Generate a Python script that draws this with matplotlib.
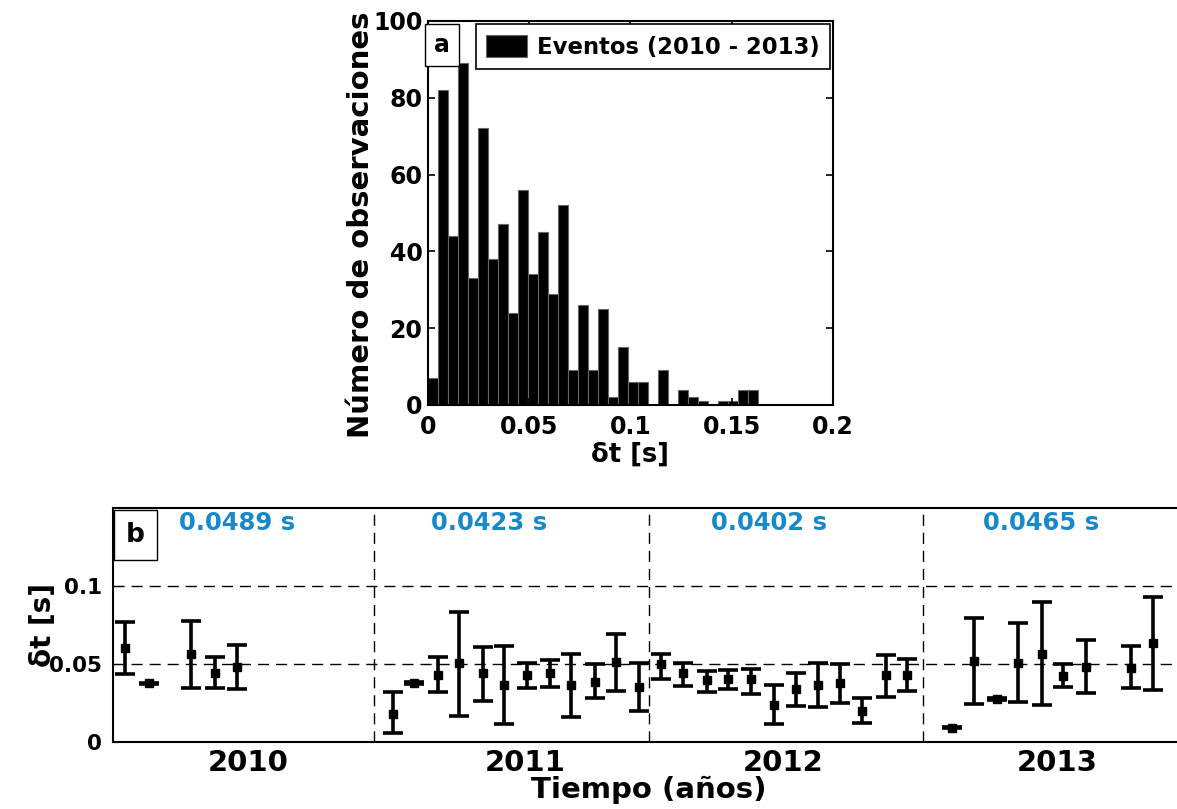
import numpy as np
import matplotlib
matplotlib.use("Agg")
from matplotlib import pyplot as plt

plt.rcParams['font.family'] = 'DejaVu Sans'
plt.rcParams['font.weight'] = 'bold'

# panel a: histogram of delays
hist_counts = [7, 82, 44, 89, 33, 72, 38, 47, 24, 56, 34, 45, 29, 52, 9, 26, 9,
               25, 2, 15, 6, 6, 0, 9, 0, 4, 2, 1, 0, 1, 1, 4, 4]
bin_width = 0.00494

# panel b: monthly delays (decimal year, value, lower, upper)
ev_t = [2010.089, 2010.180, 2010.332, 2010.420, 2010.499,
        2011.068, 2011.143, 2011.232, 2011.310, 2011.397, 2011.474,
        2011.555, 2011.642, 2011.719, 2011.803, 2011.883, 2011.965,
        2012.047, 2012.127, 2012.212, 2012.291, 2012.372, 2012.457,
        2012.536, 2012.619, 2012.698, 2012.780, 2012.865, 2012.944,
        2013.105, 2013.187, 2013.269, 2013.349, 2013.434, 2013.512,
        2013.597, 2013.759, 2013.840]
ev_val = [0.0600, 0.0376, 0.0564, 0.0444, 0.0483,
          0.0179, 0.0380, 0.0429, 0.0504, 0.0440, 0.0365,
          0.0429, 0.0444, 0.0365, 0.0387, 0.0515, 0.0350,
          0.0498, 0.0440, 0.0397, 0.0404, 0.0402, 0.0237,
          0.0338, 0.0365, 0.0376, 0.0199, 0.0429, 0.0429,
          0.0092, 0.0519, 0.0276, 0.0504, 0.0564, 0.0423,
          0.0483, 0.0476, 0.0633]
ev_lo = [0.0434, 0.0371, 0.0348, 0.0344, 0.0340,
         0.0056, 0.0375, 0.0318, 0.0167, 0.0265, 0.0115,
         0.0344, 0.0355, 0.0162, 0.0280, 0.0327, 0.0201,
         0.0406, 0.0359, 0.0323, 0.0338, 0.0308, 0.0113,
         0.0231, 0.0226, 0.0252, 0.0124, 0.0286, 0.0327,
         0.0088, 0.0244, 0.0272, 0.0254, 0.0237, 0.0355,
         0.0312, 0.0348, 0.0333]
ev_hi = [0.0767, 0.0381, 0.0776, 0.0547, 0.0624,
         0.0318, 0.0385, 0.0547, 0.0835, 0.0611, 0.0615,
         0.0509, 0.0526, 0.0564, 0.0498, 0.0692, 0.0504,
         0.0564, 0.0504, 0.0457, 0.0462, 0.0468, 0.0365,
         0.0440, 0.0504, 0.0498, 0.0280, 0.0558, 0.0532,
         0.0096, 0.0797, 0.0280, 0.0765, 0.0895, 0.0498,
         0.0654, 0.0615, 0.0931]

years = [2010, 2011, 2012, 2013]
year_means = [0.0489, 0.0423, 0.0402, 0.0465]

# where the year names and mean labels sit
year_label_x = [2010.54, 2011.55, 2012.49, 2013.49]
mean_label_x = [2010.50, 2011.42, 2012.44, 2013.43]

blue = '#1688cc'

fig = plt.figure(figsize=(11.77, 8.09), dpi=100)

# ---- panel a
ax1 = fig.add_axes([0.3636, 0.4994, 0.3441, 0.4747])
edges = np.arange(len(hist_counts)) * bin_width
ax1.bar(edges, hist_counts, width=bin_width, align='edge', color='black',
        edgecolor='#666666', linewidth=0.8, label='Eventos (2010 - 2013)')
ax1.set_xlim(0, 0.2)
ax1.set_ylim(0, 100)
ax1.set_xticks([0, 0.05, 0.1, 0.15, 0.2])
ax1.set_xticklabels(['0', '0.05', '0.1', '0.15', '0.2'])
ax1.set_yticks([0, 20, 40, 60, 80, 100])
ax1.tick_params(direction='in', top=True, right=True, length=5, width=1.2,
                labelsize=17)
ax1.tick_params(axis='x', pad=7)
ax1.tick_params(axis='y', pad=4)
for s in ax1.spines.values():
    s.set_linewidth(1.5)
ax1.set_xlabel('δt [s]', fontsize=18.5, fontweight='bold', labelpad=2)
ax1.set_ylabel('Número de observaciones', fontsize=21, fontweight='bold')
ax1.yaxis.set_label_coords(-0.13, 0.47)
leg = ax1.legend(loc='upper right', fancybox=False, edgecolor='black', framealpha=1,
                 fontsize=16.4, handlelength=1.8, handleheight=1.15,
                 borderaxespad=0.15, borderpad=0.45, handletextpad=0.4)
leg.get_frame().set_linewidth(1.2)
ax1.text(0.016, 0.968, 'a', transform=ax1.transAxes, fontsize=17, fontweight='bold',
         ha='left', va='top',
         bbox=dict(boxstyle='square,pad=0.38', facecolor='white', edgecolor='black', linewidth=1))

# ---- panel b
ax2 = fig.add_axes([0.096, 0.0828, 0.91, 0.2893])
ax2.set_xlim(2010.047, 2013.953)
ax2.set_ylim(0, 0.15)
dash = (0, (8, 5))
for y in [0.05, 0.1]:
    ax2.axhline(y, color='black', linewidth=1, linestyle=dash, zorder=1)
for y in years[1:]:
    ax2.axvline(y, color='black', linewidth=1, linestyle=dash, zorder=1)

val = np.array(ev_val)
yerr = [val - np.array(ev_lo), np.array(ev_hi) - val]
ax2.errorbar(ev_t, val, yerr=yerr, fmt='s', color='black', markersize=6,
             elinewidth=2.6, capsize=7, capthick=2.6, zorder=3)

for xp, m in zip(mean_label_x, year_means):
    ax2.text(xp, 0.1404, '%.4f s' % m, color=blue, fontsize=17.5,
             fontweight='bold', ha='center', va='center')

ax2.set_xticks(year_label_x)
ax2.set_xticklabels([str(yr) for yr in years])
ax2.set_yticks([0, 0.05, 0.1])
ax2.set_yticklabels(['0', '0.05', '0.1'])
ax2.tick_params(axis='x', length=0, labelsize=21, pad=5)
ax2.tick_params(axis='y', direction='in', length=5, labelsize=15.5, pad=8)
for s in ax2.spines.values():
    s.set_linewidth(1.5)
ax2.spines['right'].set_visible(False)
ax2.set_xlabel('Tiempo (años)', fontsize=21, fontweight='bold', labelpad=-1)
ax2.set_ylabel('δt [s]', fontsize=20, fontweight='bold', labelpad=-6)
ax2.text(0.012, 0.94, 'b', transform=ax2.transAxes, fontsize=19, fontweight='bold',
         ha='left', va='top',
         bbox=dict(boxstyle='square,pad=0.45', facecolor='white', edgecolor='black', linewidth=1))

fig.savefig('out.png', dpi=100)
